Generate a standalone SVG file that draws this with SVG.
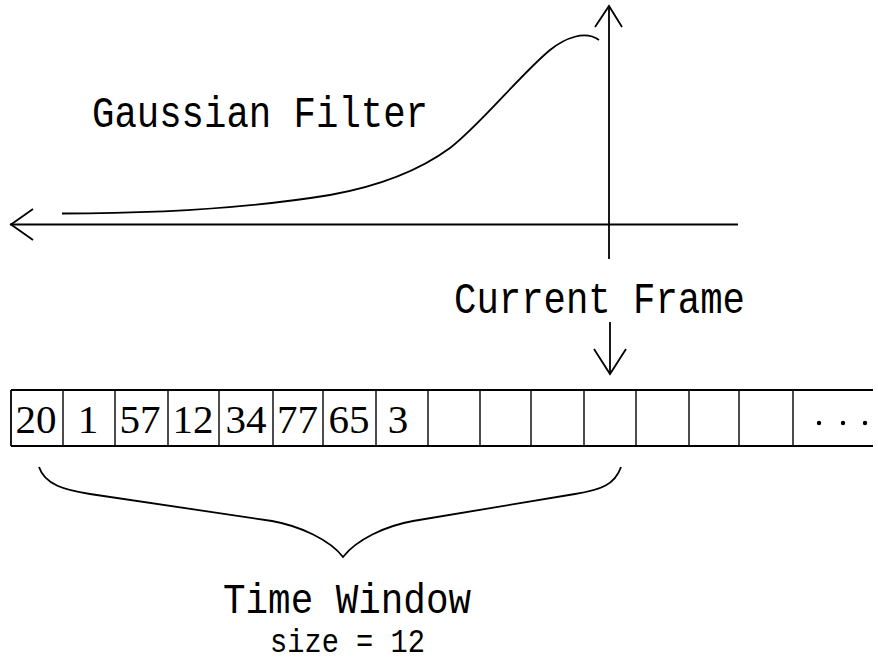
<svg xmlns="http://www.w3.org/2000/svg" width="878" height="666" viewBox="0 0 878 666">
<style>
.ln{stroke:#000;stroke-width:1.8;fill:none;stroke-linecap:butt}
.thin{stroke:#000;stroke-width:1.4;fill:none}
.lbl{font-family:"Liberation Mono","DejaVu Sans Mono",monospace;fill:#000}
.num{font-family:"Liberation Serif","DejaVu Serif",serif;font-size:41px;fill:#000;text-anchor:middle}
</style>
<rect width="878" height="666" fill="#fff"/>
<g id="axes">
<line class="ln" x1="10" y1="224.5" x2="738" y2="224.5"/>
<polyline class="ln" points="33,209 11,224.5 33,240"/>
<line class="ln" x1="609" y1="6" x2="609" y2="259"/>
<polyline class="ln" points="595,27 609,6 622,27"/>
</g>
<g id="gaussian-curve">
<path class="ln" d="M62,213.5 C150,213.5 250,208 330,195 C380,186 420,170 450,148 C480,125 520,75 550,50 C565,38 585,30 599,40"/>
</g>
<g id="gaussian-label">
<text class="lbl" x="92" y="127" font-size="44" textLength="336" lengthAdjust="spacingAndGlyphs">Gaussian Filter</text>
</g>
<g id="current-frame">
<text class="lbl" x="454" y="313" font-size="44" textLength="291" lengthAdjust="spacingAndGlyphs">Current Frame</text>
</g>
<g id="connectors">
<line class="ln" x1="610" y1="322" x2="610" y2="374"/>
<polyline class="ln" points="594,349 610,374 626,349"/>
</g>
<g id="time-window-cells">
<line class="ln" x1="11" y1="390" x2="873" y2="390"/>
<line class="ln" x1="11" y1="446" x2="873" y2="446"/>
<g class="thin">
<line x1="11" y1="390" x2="11" y2="446" stroke-width="1.8"/>
<line x1="63" y1="390" x2="63" y2="446"/>
<line x1="115" y1="390" x2="115" y2="446"/>
<line x1="168" y1="390" x2="168" y2="446"/>
<line x1="219" y1="390" x2="219" y2="446"/>
<line x1="273" y1="390" x2="273" y2="446"/>
<line x1="323" y1="390" x2="323" y2="446"/>
<line x1="376" y1="390" x2="376" y2="446"/>
<line x1="428" y1="390" x2="428" y2="446"/>
<line x1="480" y1="390" x2="480" y2="446"/>
<line x1="531" y1="390" x2="531" y2="446"/>
<line x1="584" y1="390" x2="584" y2="446"/>
<line x1="636" y1="390" x2="636" y2="446"/>
<line x1="689" y1="390" x2="689" y2="446"/>
<line x1="739" y1="390" x2="739" y2="446"/>
<line x1="793" y1="390" x2="793" y2="446"/>
</g>
<text class="num" x="36" y="433">20</text>
<text class="num" x="88" y="433">1</text>
<text class="num" x="140" y="433">57</text>
<text class="num" x="193" y="433">12</text>
<text class="num" x="246" y="433">34</text>
<text class="num" x="297.5" y="433">77</text>
<text class="num" x="349" y="433">65</text>
<text class="num" x="398" y="433">3</text>
<circle cx="819" cy="423" r="2.2"/>
<circle cx="843" cy="423" r="2.2"/>
<circle cx="865" cy="423" r="2.2"/>
</g>
<g id="brace">
<path class="ln" d="M39,467 C45,485 65,490 90,494 L272,521 C300,526 330,540 343,557 C356,540 385,526 413,521 L575,494 C600,490 615,485 621,467"/>
</g>
<g id="time-window-label">
<text class="lbl" x="223" y="613" font-size="42" textLength="248" lengthAdjust="spacingAndGlyphs">Time Window</text>
<text class="lbl" x="270" y="652" font-size="33" textLength="155" lengthAdjust="spacingAndGlyphs">size = 12</text>
</g>
</svg>
